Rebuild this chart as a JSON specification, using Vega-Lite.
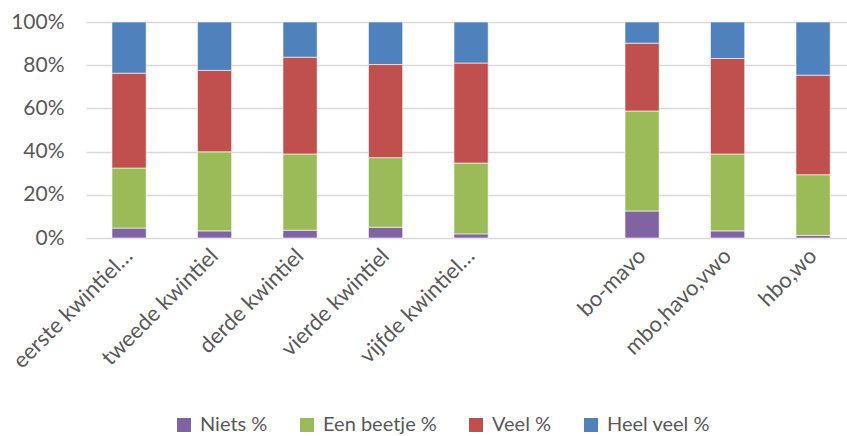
{
  "$schema": "https://vega.github.io/schema/vega-lite/v6.json",
  "width": 761,
  "height": 216,
  "autosize": "none",
  "padding": {"left": 86, "top": 22, "right": 0, "bottom": 198},
  "background": "white",
  "config": {
    "view": {"stroke": null},
    "font": "Lato",
    "axis": {"labelFont": "Lato", "labelColor": "#595959"}
  },
  "data": {
    "values": [
      {"groep": "eerste kwintiel…", "cat": "Niets %", "k": 1, "pct": 4.6},
      {"groep": "eerste kwintiel…", "cat": "Een beetje %", "k": 2, "pct": 27.8},
      {"groep": "eerste kwintiel…", "cat": "Veel %", "k": 3, "pct": 43.9},
      {"groep": "eerste kwintiel…", "cat": "Heel veel %", "k": 4, "pct": 23.7},
      {"groep": "tweede kwintiel", "cat": "Niets %", "k": 1, "pct": 3.3},
      {"groep": "tweede kwintiel", "cat": "Een beetje %", "k": 2, "pct": 36.6},
      {"groep": "tweede kwintiel", "cat": "Veel %", "k": 3, "pct": 37.7},
      {"groep": "tweede kwintiel", "cat": "Heel veel %", "k": 4, "pct": 22.4},
      {"groep": "derde kwintiel", "cat": "Niets %", "k": 1, "pct": 3.6},
      {"groep": "derde kwintiel", "cat": "Een beetje %", "k": 2, "pct": 35.3},
      {"groep": "derde kwintiel", "cat": "Veel %", "k": 3, "pct": 44.8},
      {"groep": "derde kwintiel", "cat": "Heel veel %", "k": 4, "pct": 16.3},
      {"groep": "vierde kwintiel", "cat": "Niets %", "k": 1, "pct": 5.0},
      {"groep": "vierde kwintiel", "cat": "Een beetje %", "k": 2, "pct": 32.2},
      {"groep": "vierde kwintiel", "cat": "Veel %", "k": 3, "pct": 43.1},
      {"groep": "vierde kwintiel", "cat": "Heel veel %", "k": 4, "pct": 19.7},
      {"groep": "vijfde kwintiel…", "cat": "Niets %", "k": 1, "pct": 1.9},
      {"groep": "vijfde kwintiel…", "cat": "Een beetje %", "k": 2, "pct": 32.8},
      {"groep": "vijfde kwintiel…", "cat": "Veel %", "k": 3, "pct": 46.3},
      {"groep": "vijfde kwintiel…", "cat": "Heel veel %", "k": 4, "pct": 19.0},
      {"groep": "bo-mavo", "cat": "Niets %", "k": 1, "pct": 12.5},
      {"groep": "bo-mavo", "cat": "Een beetje %", "k": 2, "pct": 46.3},
      {"groep": "bo-mavo", "cat": "Veel %", "k": 3, "pct": 31.4},
      {"groep": "bo-mavo", "cat": "Heel veel %", "k": 4, "pct": 9.8},
      {"groep": "mbo,havo,vwo", "cat": "Niets %", "k": 1, "pct": 3.3},
      {"groep": "mbo,havo,vwo", "cat": "Een beetje %", "k": 2, "pct": 35.6},
      {"groep": "mbo,havo,vwo", "cat": "Veel %", "k": 3, "pct": 44.2},
      {"groep": "mbo,havo,vwo", "cat": "Heel veel %", "k": 4, "pct": 16.9},
      {"groep": "hbo,wo", "cat": "Niets %", "k": 1, "pct": 1.2},
      {"groep": "hbo,wo", "cat": "Een beetje %", "k": 2, "pct": 28.1},
      {"groep": "hbo,wo", "cat": "Veel %", "k": 3, "pct": 46.1},
      {"groep": "hbo,wo", "cat": "Heel veel %", "k": 4, "pct": 24.6}
    ]
  },
  "mark": {"type": "bar", "stroke": "white", "strokeWidth": 0.6},
  "encoding": {
    "x": {
      "field": "groep",
      "type": "nominal",
      "scale": {
        "domain": ["eerste kwintiel…", "tweede kwintiel", "derde kwintiel", "vierde kwintiel", "vijfde kwintiel…", " ", "bo-mavo", "mbo,havo,vwo", "hbo,wo"],
        "paddingInner": 0.6,
        "paddingOuter": 0.25,
        "align": 0.607
      },
      "axis": {
        "title": null,
        "labelAngle": -45,
        "labelAlign": "right",
        "labelBaseline": "middle",
        "labelFontSize": 22,
        "ticks": false,
        "domain": false,
        "labelPadding": 14,
        "grid": false
      }
    },
    "y": {
      "field": "pct",
      "type": "quantitative",
      "stack": "normalize",
      "scale": {"domain": [0, 1]},
      "axis": {
        "title": null,
        "format": ".0%",
        "values": [0, 0.2, 0.4, 0.6, 0.8, 1],
        "labelFontSize": 21,
        "domain": false,
        "ticks": false,
        "labelPadding": 22,
        "grid": true,
        "gridColor": "#d9d9d9",
        "gridWidth": 1.5
      }
    },
    "color": {
      "field": "cat",
      "type": "nominal",
      "scale": {
        "domain": ["Niets %", "Een beetje %", "Veel %", "Heel veel %"],
        "range": ["#8064A2", "#9BBB59", "#C0504D", "#4F81BD"]
      },
      "legend": {
        "title": null,
        "orient": "none",
        "direction": "horizontal",
        "legendX": 88,
        "legendY": 393,
        "symbolType": "square",
        "symbolSize": 196,
        "symbolStrokeWidth": 0,
        "labelFont": "Lato",
        "labelFontSize": 20,
        "labelColor": "#595959",
        "labelOffset": 6,
        "columnPadding": 29
      }
    },
    "order": {"field": "k", "type": "quantitative"}
  }
}
